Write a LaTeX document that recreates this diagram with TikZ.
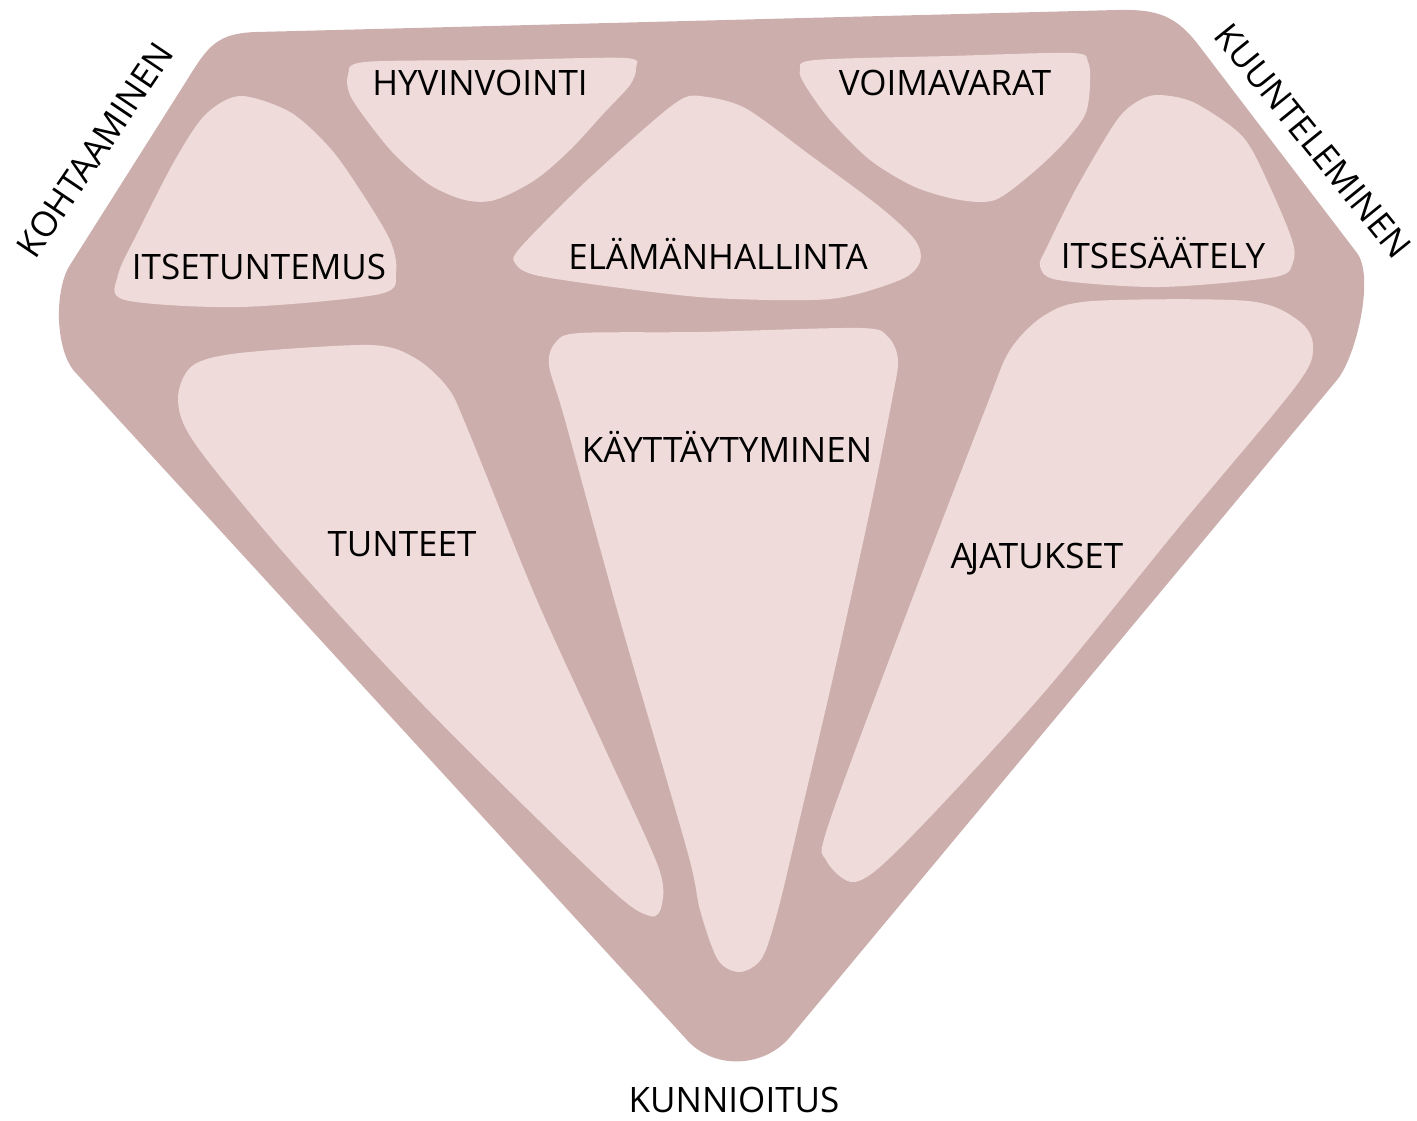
\documentclass[tikz,border=0pt]{standalone}
\usepackage{fontspec}
\setmainfont{Open Sans}
\definecolor{outerc}{HTML}{CCAFAD}
\definecolor{innerc}{HTML}{EFDBDA}
\begin{document}
\begin{tikzpicture}[x=1pt,y=-1pt,
  outerfill/.style={fill=outerc},
  innerfill/.style={fill=innerc},
  lbl/.style={font=\fontsize{35}{42}\selectfont, text=black, inner sep=0pt}]
\useasboundingbox (0,0) rectangle (1417,1121);
% outer diamond
\fill[outerfill] (257,32) -- (1117,10) .. controls (1157,9) and (1176,15) .. (1200,47)
  -- (1357,253) .. controls (1375,277) and (1356,357) .. (1337,380)
  -- (790,1037) .. controls (764,1068) and (714,1070) .. (687,1040)
  -- (75,372) .. controls (55,350) and (54,290) .. (70,265)
  -- (187,80) .. controls (208,46) and (217,33) .. (257,32) -- cycle;
% inner facets
\fill[innerfill] plot[smooth cycle, tension=0.5] coordinates {(240,96) (205,115) (175,160) (140,228) (118,275) (125,300) (240,307) (380,294) (396,272) (390,240) (360,190) (330,148) (290,112)};
\fill[innerfill] plot[smooth cycle, tension=0.5] coordinates {(365,62) (500,60) (625,58) (636,68) (630,85) (605,112) (570,150) (535,180) (495,200) (465,200) (430,185) (395,155) (368,122) (350,95) (348,75)};
\fill[innerfill] plot[smooth cycle, tension=0.5] coordinates {(815,60) (950,56) (1072,53) (1088,62) (1090,85) (1085,115) (1062,145) (1030,175) (995,200) (960,200) (915,187) (870,160) (830,120) (805,85) (800,70)};
\fill[innerfill] plot[smooth cycle, tension=0.5] coordinates {(700,96) (745,108) (810,155) (880,207) (915,240) (920,262) (900,280) (830,299) (713,298) (613,287) (535,275) (515,263) (520,248) (580,187) (645,128) (680,100)};
\fill[innerfill] plot[smooth cycle, tension=0.5] coordinates {(1160,95) (1195,103) (1243,137) (1270,187) (1292,240) (1293,262) (1275,277) (1160,287) (1058,280) (1040,266) (1047,247) (1077,187) (1117,120) (1140,100)};
\fill[innerfill] plot[smooth cycle, tension=0.5] coordinates {(178,400) (192,366) (240,353) (370,345) (415,358) (448,388) (468,430) (536,598) (606,751) (658,866) (662,904) (650,916) (606,885) (431,713) (290,560) (196,445)};
\fill[innerfill] plot[smooth cycle, tension=0.5] coordinates {(580,333) (700,332) (860,328) (888,337) (898,360) (892,400) (870,510) (834,673) (800,818) (778,910) (762,958) (740,972) (718,960) (700,910) (687,850) (620,620) (565,420) (549,365) (556,342)};
\fill[innerfill] plot[smooth cycle, tension=0.5] coordinates {(1093,301) (1248,301) (1299,321) (1313,347) (1296,386) (1179,527) (1041,696) (903,845) (855,882) (826,860) (828,826) (903,623) (985,410) (1010,350) (1045,315)};
% labels
\node[lbl] (hyv) at (480,83) {HYVINVOINTI};
\node[lbl] (voi) at (945,83) {VOIMAVARAT};
\node[lbl] (its) at (259,267) {ITSETUNTEMUS};
\node[lbl] (ela) at (718,254) {ELÄMÄNHALLINTA};
\node[lbl] (iss) at (1163,253) {ITSESÄÄTELY};
\node[lbl] (kay) at (727,447) {KÄYTTÄYTYMINEN};
\node[lbl] (tun) at (402,544) {TUNTEET};
\node[lbl] (aja) at (1037,559) {A\kern-3pt JATUKSET};
\node[lbl] (kun) at (734,1100) {KUNNIOITUS};
\node[lbl, rotate=56] (koh) at (95,150) {KOHTAAMINEN};
\node[lbl, rotate=-51] (kuu) at (1313,141) {KUUNTELEMINEN};
\end{tikzpicture}
\end{document}
